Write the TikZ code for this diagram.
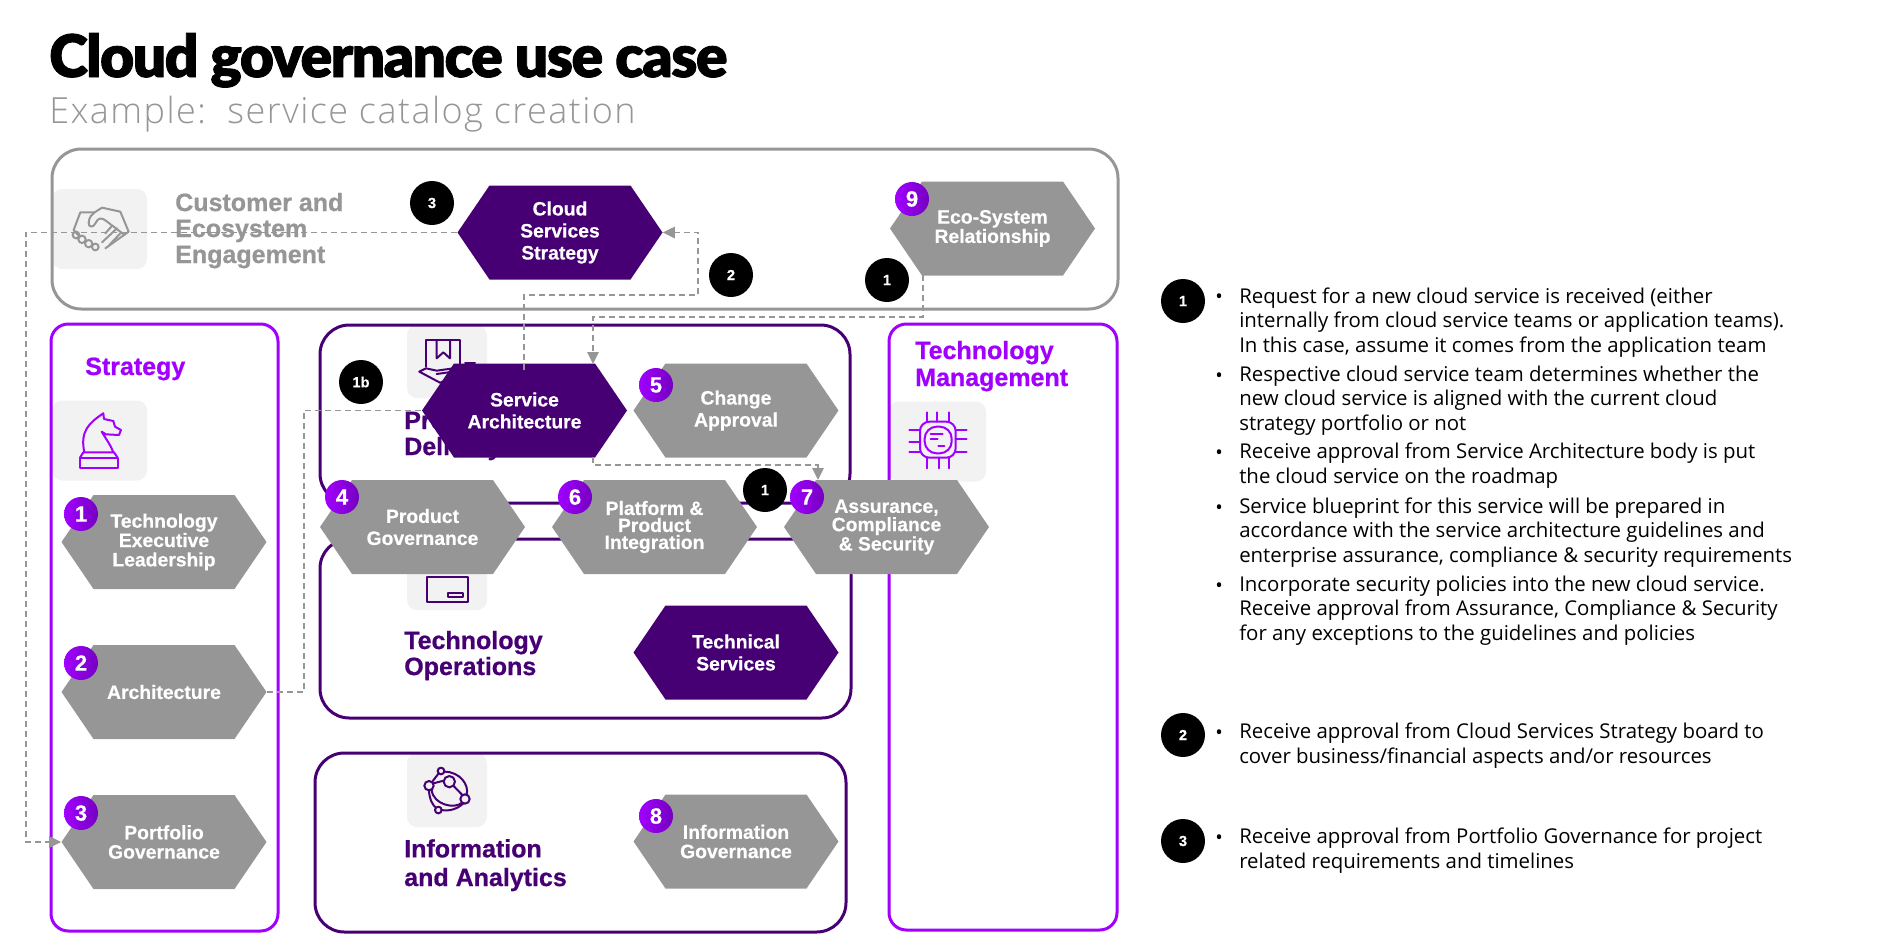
\documentclass[tikz,border=0pt]{standalone}
\usepackage{fontspec}
\usetikzlibrary{positioning, arrows.meta, shapes.symbols}
\setmainfont{Open Sans}
\newfontfamily\titlefont[LetterSpace=-2.5,FakeBold=1.5]{Lato Black}
\newfontfamily\subfont[LetterSpace=4]{Open Sans Light}
\newfontfamily\headfont[FakeBold=.7]{Liberation Sans Bold}
\newfontfamily\hexfont[FakeBold=.4]{Liberation Sans Bold}
\definecolor{midgray}{HTML}{969696}
\definecolor{darkpurple}{HTML}{460073}
\definecolor{brightpurple}{HTML}{A100FF}
\definecolor{shadepurple}{HTML}{7500C0}
\definecolor{iconback}{HTML}{F2F2F2}
\tikzset{
hex/.style = {signal, signal to=west and east, signal pointer angle=111.5, minimum width=153.75pt, minimum height=70.5pt, inner sep=0pt, text=white, align=center, font=\fontsize{14.5}{16.5}\selectfont\hexfont},
hexgray/.style = {hex, fill=midgray},
hexdark/.style = {hex, fill=darkpurple},
tight/.style = {font=\fontsize{14.5}{14.5}\selectfont\hexfont},
tighter/.style = {font=\fontsize{14.5}{12.75}\selectfont\hexfont},
numdot/.style = {circle, minimum size=25.5pt, inner sep=0pt, left color=brightpurple, right color=shadepurple, text=white, font=\fontsize{16.5}{16.5}\selectfont\hexfont},
stepdot/.style = {circle, minimum size=33pt, inner sep=0pt, fill=black, text=white, font=\fontsize{11}{11}\selectfont\hexfont},
iconsq/.style = {rectangle, rounded corners=7.5pt, fill=iconback, minimum width=60pt, minimum height=60pt, inner sep=0pt},
panel/.style = {rounded corners=#1, line width=2.25pt},
head/.style = {anchor=base west, align=left, inner sep=0pt, font=\fontsize{18.75}{19.5}\selectfont\headfont},
itemtext/.style = {anchor=base west, align=left, inner sep=0pt, font=\fontsize{15.3}{18.2}\selectfont},
itemdot/.style = {anchor=base, inner sep=0pt, font=\fontsize{15}{18}\selectfont},
flow/.style = {midgray, line width=1.3pt, dash pattern=on 4.5pt off 3pt},
tip/.style = {-{Triangle[length=9pt, width=8.5pt]}},
icon/.style = {line width=1.5pt, line join=round, line cap=round},
}
\begin{document}
\begin{tikzpicture}[x=.75pt, y=-.75pt]
    \useasboundingbox (0,0) rectangle (1904,947);
    \node[anchor=base west, inner sep=0pt, font=\fontsize{44}{44}\selectfont\titlefont] (title) at (49,77) {Cloud governance use case};
    \node[anchor=base west, inner sep=0pt, font=\fontsize{27}{27}\selectfont\subfont, text=midgray] (subtitle) at (49,123) {Example:\ \ service catalog creation};
    % icon backs
    \node[iconsq, minimum width=71.25pt] (sqcust) at (99.5,229) {};
    \node[iconsq, minimum width=71.25pt] (sqstrat) at (99.5,440.5) {};
    \node[iconsq, minimum width=72.75pt] (sqtech) at (937.5,441.5) {};
    \node[iconsq, minimum height=54.75pt] (sqprod) at (447,361.5) {};
    \node[iconsq, minimum height=52.5pt] (sqops) at (447,575) {};
    \node[iconsq, minimum height=55.5pt] (sqinfo) at (447,790) {};
    % panels
    \draw[panel=22pt, midgray] (52,149) rectangle (1118,309);
    \draw[panel=13pt, brightpurple] (51,324) rectangle (278,931);
    \draw[panel=13pt, brightpurple] (889,324) rectangle (1117,930);
    \draw[panel=22pt, darkpurple] (320,325) rectangle (850,503);
    \draw[panel=22pt, darkpurple] (320,539) rectangle (851,718);
    \draw[panel=22pt, darkpurple] (315,753) rectangle (846,932);
    % handshake
    \begin{scope}[shift={(52,185)}, x=.25pt, y=-.25pt, icon, midgray]
        \draw (65,135) -- (85,82) -- (128,82);
        \draw (110,112) .. controls (112,95) and (120,88) .. (128,82) -- (150,68) -- (205,80) -- (230,140) -- (160,190);
        \draw (110,112) .. controls (108,128) and (125,130) .. (132,112) .. controls (138,98) and (150,98) .. (160,106) -- (218,150);
        \draw (65,135) -- (78,150);
        \draw (72,150) circle (10) (90,163) circle (11) (110,176) circle (11) (130,186) circle (10);
        \draw (195,130) -- (150,172) (178,125) -- (160,145) (205,145) -- (172,180);
    \end{scope}
    % knight
    \begin{scope}[shift={(50,395)}, x=.25pt, y=-.25pt, icon, brightpurple]
        \draw (90,188) rectangle (203,218);
        \draw (90,188) -- (100,172) -- (192,172) -- (203,188);
        \draw (103,172) .. controls (90,110) and (115,85) .. (160,55) -- (162,72) -- (190,78) -- (195,95) -- (213,105) -- (207,120) -- (168,118) -- (155,110) .. controls (170,135) and (182,150) .. (190,172);
    \end{scope}
    % hand and bookmark
    \begin{scope}[shift={(400,320)}, x=.25pt, y=-.25pt, icon, darkpurple]
        \draw (78,140) -- (78,60) -- (180,60) -- (180,140);
        \draw (110,60) -- (110,115) -- (130,97) -- (150,115) -- (150,60);
        \draw (58,155) -- (78,145) -- (110,152) -- (160,145);
        \draw (58,155) -- (120,188) -- (170,170);
        \draw (110,162) -- (160,155);
        \draw (195,128) -- (225,128);
    \end{scope}
    % drawer
    \begin{scope}[shift={(400,480)}, x=.25pt, y=-.25pt, icon, darkpurple]
        \draw (82,290) rectangle (205,367);
        \draw (145,340) rectangle (190,352);
    \end{scope}
    % network
    \begin{scope}[shift={(400,750)}, x=.25pt, y=-.25pt, icon, darkpurple]
        \draw (123,63) circle (10) (148,95) circle (17) (87,107) circle (14) (195,147) circle (14) (115,180) circle (10);
        \draw (133,65) .. controls (180,65) and (208,105) .. (200,134);
        \draw (95,120) .. controls (100,165) and (165,178) .. (186,158);
        \draw (87,121) .. controls (88,150) and (100,168) .. (108,173);
        \draw (124,180) .. controls (150,185) and (175,175) .. (190,160);
        \draw (100,100) -- (131,92) (160,107) -- (187,135) (96,96) -- (116,70);
    \end{scope}
    % chip
    \begin{scope}[shift={(890,395)}, x=.25pt, y=-.25pt, icon, brightpurple]
        \draw[rounded corners=7pt] (90,80) rectangle (197,188);
        \draw[rounded corners=9pt] (104,95) rectangle (185,175);
        \draw (110,52) -- (110,80) (140,52) -- (140,80) (177,52) -- (177,80);
        \draw (110,188) -- (110,220) (147,188) -- (147,220) (177,188) -- (177,220);
        \draw (58,105) -- (90,105) (58,140) -- (90,140) (58,170) -- (90,170);
        \draw (197,105) -- (230,105) (197,133) -- (230,133) (197,170) -- (230,170);
        \draw (122,117) -- (158,117) (122,132) -- (143,132) (145,154) -- (163,154);
    \end{scope}
    % panel titles
    \node[head, text=midgray] (custlabel) at (175,263) {Customer and\\Ecosystem\\Engagement};
    \node[head, text=brightpurple] (stratlabel) at (85,375) {Strategy};
    \node[head, text=brightpurple] (techlabel) at (915,386) {Technology\\[.75pt]Management};
    \node[head, text=darkpurple] (prodlabel) at (404,455) {Product\\Delivery};
    \node[head, text=darkpurple] (opslabel) at (404,675) {Technology\\Operations};
    \node[head, text=darkpurple] (infolabel) at (404,886) {Information\\[2pt]and Analytics};
    % process steps
    \node[hexdark] (cloud) at (560,232.5) {Cloud\\Services\\Strategy};
    \node[hexgray, tight] (eco) at (992.5,228.5) {Eco-System\\Relationship};
    \node[hexgray, tight] (techexec) at (164,542) {Technology\\Executive\\Leadership};
    \node[hexgray] (archt) [below of=techexec, node distance=112.5pt] {Architecture};
    \node[hexgray, tight] (pfgov) [below of=archt, node distance=112.5pt] {Portfolio\\Governance};
    \node[hexdark] (svcarch) at (524.5,410.5) {Service\\Architecture};
    \node[hexgray] (chgapp) [right of=svcarch, node distance=158.6pt] {Change\\Approval};
    \node[hexgray] (prodgov) at (422.5,527) {Product\\Governance};
    \node[hexgray, tighter] (pltf) [right of=prodgov, node distance=174pt] {Platform \&\\Product\\Integration};
    \node[hexgray, tighter] (assur) [right of=pltf, node distance=174pt] {Assurance,\\Compliance\\\& Security};
    \node[hexdark] (techsvc) at (736,652.5) {Technical\\Services};
    \node[hexgray, tight] (infogov) at (736,841.5) {Information\\Governance};
    % free ends of the connectors
    \coordinate (leftrail) at (26,600);
    \coordinate (archrail) at (304,500);
    \coordinate (svcin) at (524,370);
    \coordinate (toprail) at (698,295);
    \coordinate (ecoout) at (923,275);
    \coordinate (ecorail) at (593,317);
    \coordinate (svcne) at (593,364);
    \coordinate (svcse) at (593,457);
    \coordinate (assurrail) at (818,465);
    \coordinate (assurnw) at (818,480);
    % connectors
    \draw[flow, tip] (cloud.west) -| (leftrail) |- (pfgov.west);
    \draw[flow] (archt.east) -| (archrail) |- (svcarch.west);
    \draw[flow, tip] (svcin) |- (toprail) |- (cloud.east);
    \draw[flow, tip] (ecoout) |- (ecorail) -- (svcne);
    \draw[flow, tip] (svcse) |- (assurrail) -- (assurnw);
    % badges
    \node[stepdot] (s3) at (432,203) {3};
    \node[stepdot] (s2) at (731,275) {2};
    \node[stepdot] (s1a) at (887,280) {1};
    \node[stepdot] (s1b) at (361,382) {1b};
    \node[stepdot] (s1c) at (765,490) {1};
    \node[numdot] (n1) at (81,514) {1};
    \node[numdot] (n2) at (81,663) {2};
    \node[numdot] (n3) at (81,813) {3};
    \node[numdot] (n4) at (342,497) {4};
    \node[numdot] (n5) at (656,385) {5};
    \node[numdot] (n6) at (575,497) {6};
    \node[numdot] (n7) at (807,497) {7};
    \node[numdot] (n8) at (656,816) {8};
    \node[numdot] (n9) at (912,199) {9};
    % notes on the right
    \node[stepdot] (k1) at (1183,301) {1};
    \node[itemdot] (d1) at (1219,303) {•};
    \node[itemtext] (t1) at (1239,352) {Request for a new cloud service is received (either\\internally from cloud service teams or application teams).\\In this case, assume it comes from the application team};
    \node[itemdot] (d2) at (1219,382) {•};
    \node[itemtext] (t2) at (1239,430) {Respective cloud service team determines whether the\\new cloud service is aligned with the current cloud\\strategy portfolio or not};
    \node[itemdot] (d3) at (1219,459) {•};
    \node[itemtext] (t3) at (1239,483) {Receive approval from Service Architecture body is put\\the cloud service on the roadmap};
    \node[itemdot] (d4) at (1219,514) {•};
    \node[itemtext] (t4) at (1239,562) {Service blueprint for this service will be prepared in\\accordance with the service architecture guidelines and\\enterprise assurance, compliance \& security requirements};
    \node[itemdot] (d5) at (1219,592) {•};
    \node[itemtext] (t5) at (1239,640) {Incorporate security policies into the new cloud service.\\Receive approval from Assurance, Compliance \& Security\\for any exceptions to the guidelines and policies};
    \node[stepdot] (k2) at (1183,735) {2};
    \node[itemdot] (d6) at (1219,739) {•};
    \node[itemtext] (t6) at (1239,763) {Receive approval from Cloud Services Strategy board to\\cover business/financial aspects and/or resources};
    \node[stepdot] (k3) at (1183,841) {3};
    \node[itemdot] (d7) at (1219,844) {•};
    \node[itemtext] (t7) at (1239,868) {Receive approval from Portfolio Governance for project\\related requirements and timelines};
\end{tikzpicture}
\end{document}
